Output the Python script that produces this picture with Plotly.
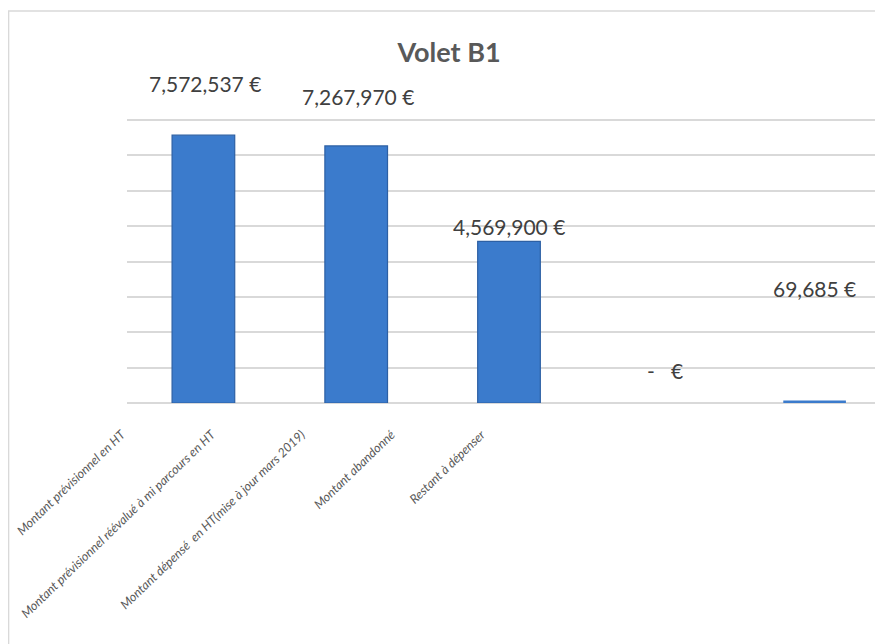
import plotly.graph_objects as go

categories = [
    "Montant prévisionnel en HT",
    "Montant prévisionnel réévalué à mi parcours en HT",
    "Montant dépensé  en HT(mise à jour mars 2019)",
    "Montant abandonné",
    "Restant à dépenser",
]
values = [7572537, 7267970, 4569900, 0, 69685]
label_yshift = [52, 49, 15, 33, 112]
label_xshift = [2, 2, 0, 3, 0]
bar_line_width = [1.2, 1.2, 1.2, 0, 0]

def fmt(v):
    return "-   €" if v == 0 else f"{v:,.0f} €"

FONT = "Lato, 'Open Sans', sans-serif"
idx = list(range(len(categories)))

fig = go.Figure()
fig.add_trace(go.Bar(
    x=idx, y=values, width=0.41,
    marker=dict(color="#3B7BCC", line=dict(color="#2D60A4", width=bar_line_width)),
    showlegend=False, hoverinfo="skip",
))
# helper trace so the category-label axis renders
fig.add_trace(go.Scatter(x=idx, y=[None] * len(idx), xaxis="x2", yaxis="y",
                         showlegend=False, hoverinfo="skip"))

for i, v in enumerate(values):
    fig.add_annotation(x=i, y=v, text=fmt(v), showarrow=False,
                       yanchor="middle", xanchor="center",
                       yshift=label_yshift[i], xshift=label_xshift[i],
                       font=dict(family=FONT, size=21, color="#404040"))

fig.update_layout(
    width=883, height=644,
    margin=dict(l=119, r=0, t=111, b=249, autoexpand=False),
    paper_bgcolor="white", plot_bgcolor="rgba(0,0,0,0)",
    title=dict(text="<b>Volet B1</b>", x=441 / 883, xanchor="center",
               y=1 - 45 / 644, yanchor="middle", automargin=False,
               font=dict(family=FONT, size=27, color="#595959")),
    xaxis=dict(range=[-0.5, 4.5], showticklabels=False, showgrid=False,
               zeroline=False, showline=False, ticks="", automargin=False),
    xaxis2=dict(overlaying="x", anchor="y", side="bottom", automargin=False,
                range=[-0.05, 8.44], tickvals=idx, ticktext=categories,
                tickangle=-44, showgrid=False, zeroline=False, showline=False,
                ticks="", ticklabelshift=-10, ticklabelstandoff=21,
                ticklabeloverflow="allow",
                tickfont=dict(family=FONT, size=12.5, color="#595959",
                              style="italic")),
    yaxis=dict(range=[0, 8030000], dtick=1000000, showticklabels=False,
               gridcolor="#d9d9d9", gridwidth=1.5, zeroline=True,
               zerolinecolor="#d9d9d9", zerolinewidth=2, showline=False,
               ticks="", automargin=False),
    shapes=[dict(type="rect", xref="paper", yref="paper",
                 x0=-0.155, x1=1.05, y0=-1.0, y1=1.38,
                 line=dict(color="#d9d9d9", width=1.5), layer="below")],
)

fig.write_html("out.html")
